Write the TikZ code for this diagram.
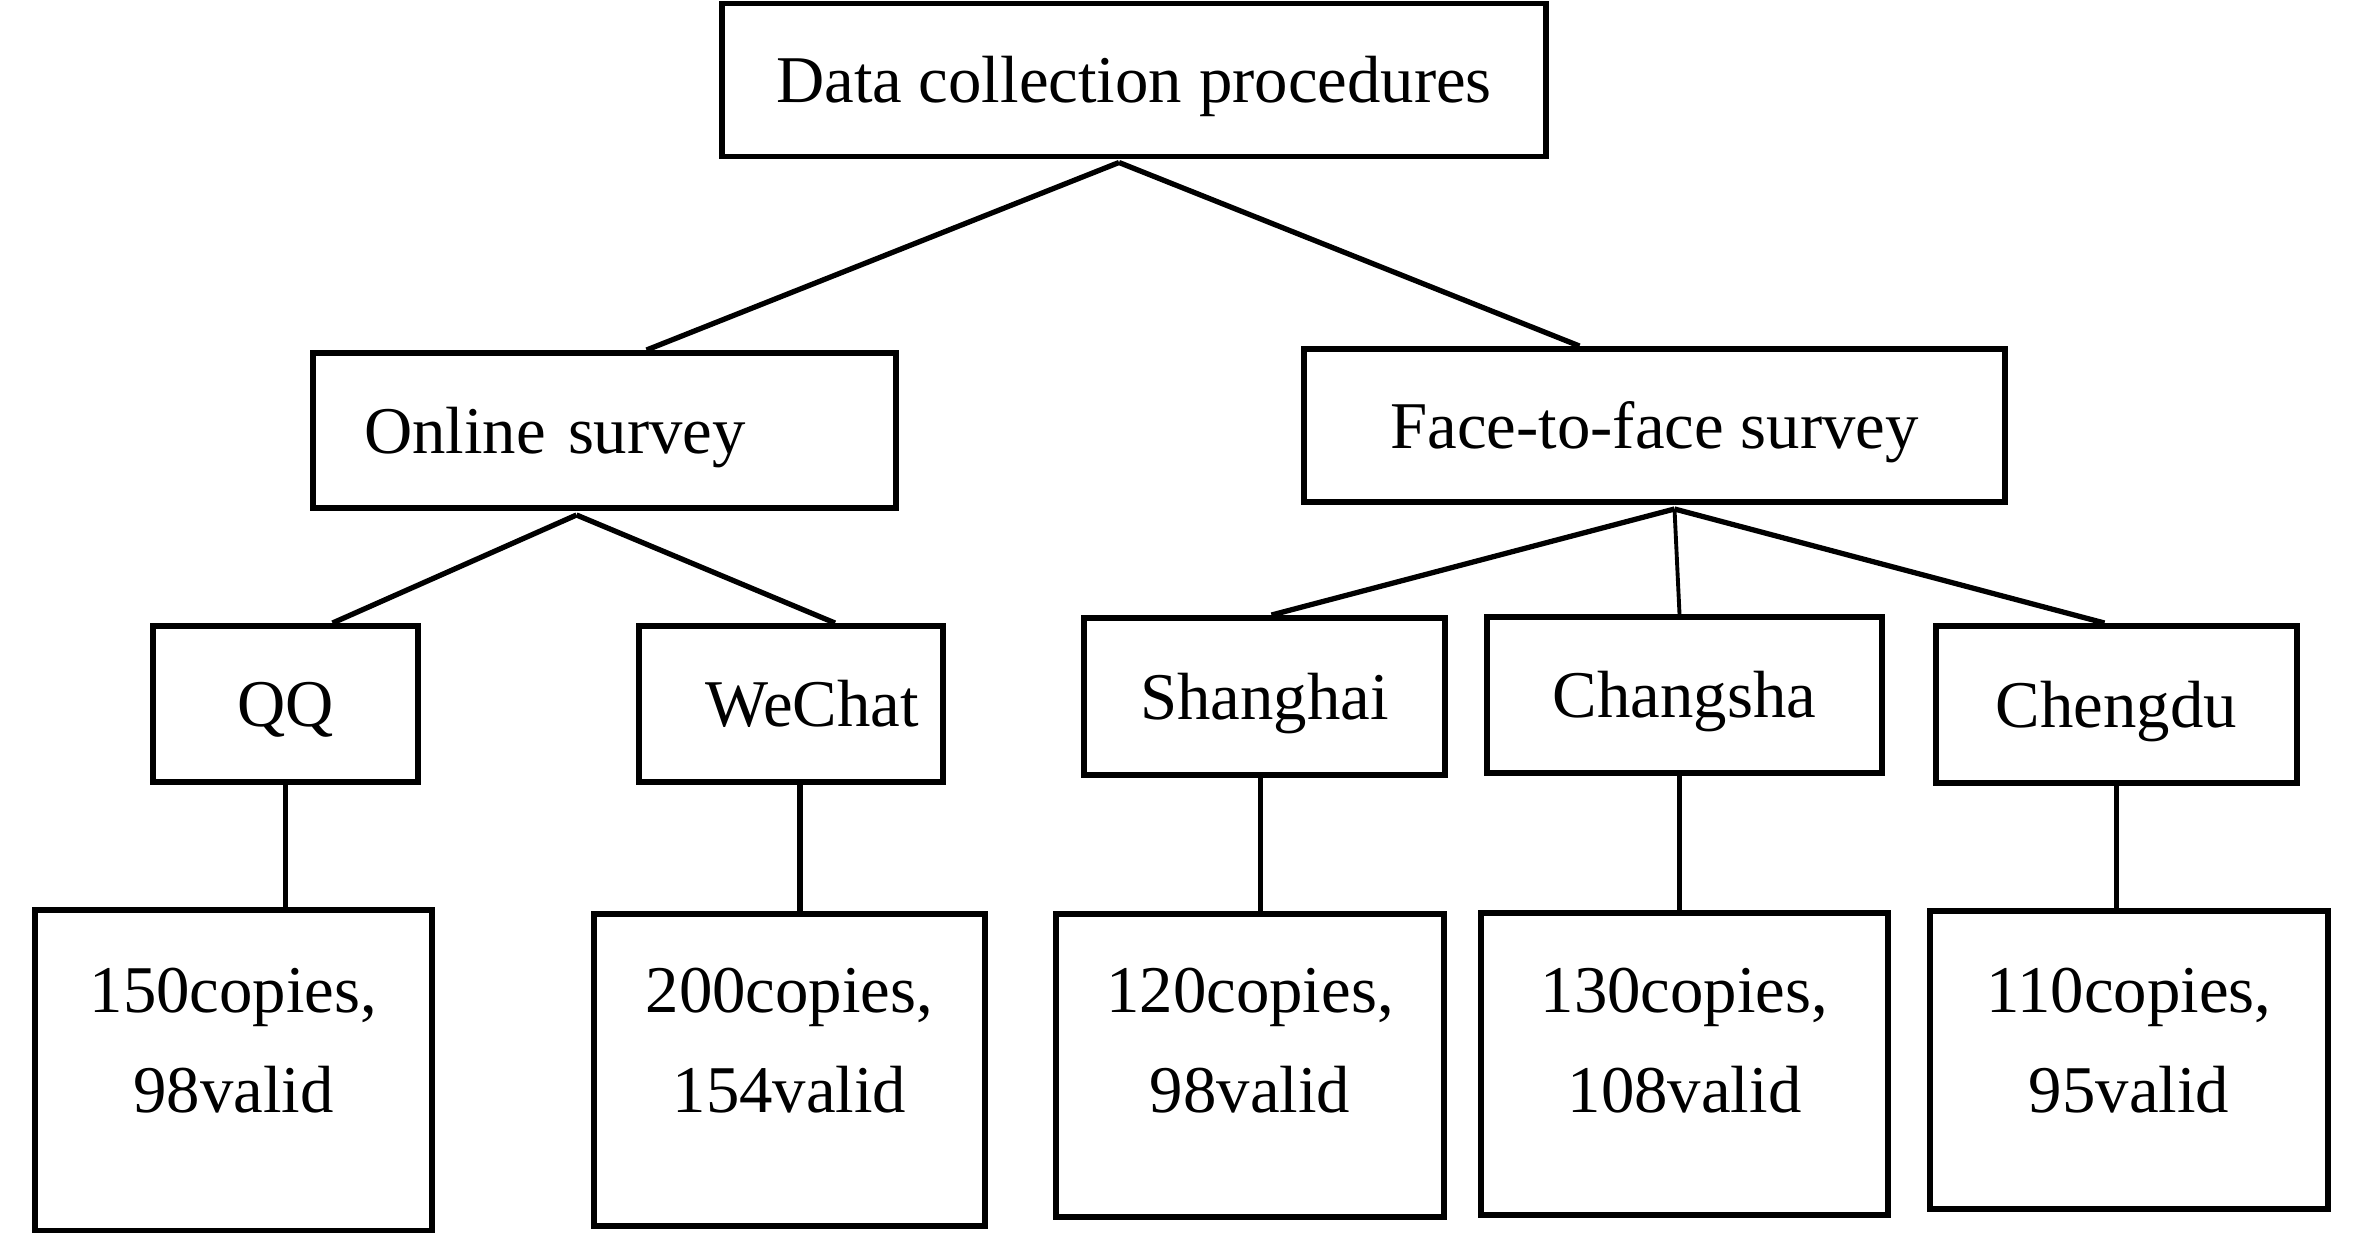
\documentclass[tikz,border=0pt]{standalone}
\usepackage{fontspec}
\setmainfont{Liberation Serif}
\usetikzlibrary{calc}

\tikzset{
  box/.style={draw, line width=1.7pt, inner sep=0pt, text height=0.45cm, text depth=0cm,
    font=\fontsize{19}{28.4}\selectfont},
  countbox/.style={draw, line width=1.7pt, inner sep=0pt, align=center,
    font=\fontsize{19}{28.4}\selectfont},
  branch/.style={line width=1.5pt},
  stem/.style={line width=1.6pt}
}
\newcommand{\lowpad}[1]{\rule[-#1]{0pt}{#1}}

\begin{document}
\begin{tikzpicture}
  \useasboundingbox (0,0) rectangle (23.58,-12.32);

  % levels of the tree
  \node[box, minimum width=8.24cm, minimum height=1.53cm] (dcp) at (11.34,-0.80) {Data collection procedures};
  \node[box, minimum width=5.83cm, minimum height=1.55cm, text width=4.81cm, inner xsep=0.51cm, align=left] (online) at (6.045,-4.305) {Online survey};
  \node[box, minimum width=7.01cm, minimum height=1.53cm] (face) at (16.545,-4.255) {Face-to-face survey};

  \node[box, minimum width=2.65cm, minimum height=1.56cm] (qq) at (2.855,-7.04) {QQ};
  \node[box, minimum width=3.04cm, minimum height=1.56cm, text width=2.56cm, inner xsep=0.24cm, align=right] (wechat) at (7.91,-7.04) {WeChat};
  \node[box, minimum width=3.61cm, minimum height=1.57cm] (shanghai) at (12.645,-6.965) {Shanghai};
  \node[box, minimum width=3.95cm, minimum height=1.56cm] (changsha) at (16.845,-6.95) {Changsha};
  \node[box, minimum width=3.61cm, minimum height=1.57cm] (chengdu) at (21.165,-7.045) {Chengdu};

  % copies per channel
  \node[countbox, minimum width=3.97cm, minimum height=3.21cm] (qqcount) at (2.335,-10.705) {150copies,\\98valid\lowpad{0.61cm}};
  \node[countbox, minimum width=3.91cm, minimum height=3.12cm] (wechatcount) at (7.895,-10.70) {200copies,\\154valid\lowpad{0.60cm}};
  \node[countbox, minimum width=3.88cm, minimum height=3.03cm] (shanghaicount) at (12.50,-10.655) {120copies,\\98valid\lowpad{0.50cm}};
  \node[countbox, minimum width=4.07cm, minimum height=3.02cm] (changshacount) at (16.845,-10.635) {130copies,\\108valid\lowpad{0.46cm}};
  \node[countbox, minimum width=3.98cm, minimum height=2.98cm] (chengducount) at (21.29,-10.60) {110copies,\\95valid\lowpad{0.39cm}};

  % connectors
  \coordinate (dcpfork) at ([xshift=-0.15cm,yshift=-0.03cm]dcp.south);
  \draw[branch] (dcpfork) -- ([xshift=0.42cm]online.north);
  \draw[branch] (dcpfork) -- ([xshift=-0.75cm]face.north);

  \coordinate (onlinefork) at ([xshift=-0.28cm,yshift=-0.04cm]online.south);
  \draw[branch] (onlinefork) -- ([xshift=0.47cm]qq.north);
  \draw[branch] (onlinefork) -- ([xshift=0.44cm]wechat.north);

  \coordinate (facefork) at ([xshift=0.2cm,yshift=-0.04cm]face.south);
  \draw[branch] (facefork) -- ([xshift=0.07cm]shanghai.north);
  \draw[line width=1.1pt] (facefork) -- ([xshift=-0.05cm]changsha.north);
  \draw[branch] (facefork) -- ([xshift=-0.12cm]chengdu.north);

  \foreach \city/\tally/\dx in {qq/qqcount/0, wechat/wechatcount/0.09, shanghai/shanghaicount/-0.04,
      changsha/changshacount/-0.05, chengdu/chengducount/0}
    \draw[stem] ([xshift=\dx cm]\city.south) -- ([xshift=\dx cm]\city.south |- \tally.north);
\end{tikzpicture}
\end{document}
